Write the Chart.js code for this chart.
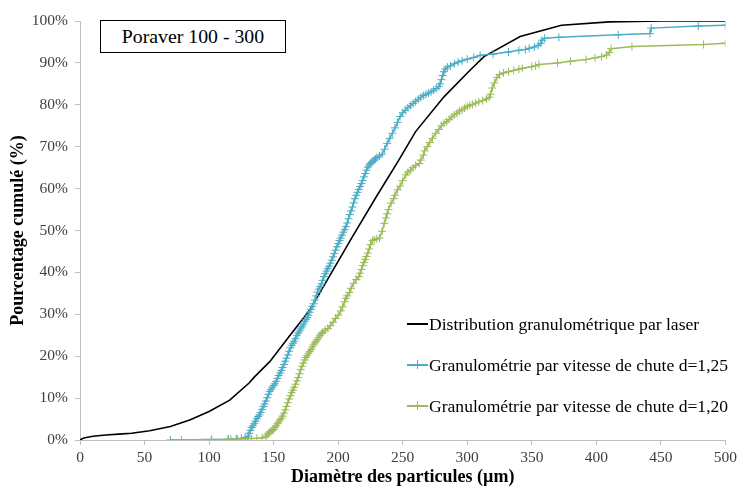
<!DOCTYPE html>
<html><head><meta charset="utf-8">
<script src="https://cdn.jsdelivr.net/npm/chart.js@4/dist/chart.umd.min.js"></script>
<style>
html,body{margin:0;padding:0;background:#fff;}
#wrap{position:relative;width:741px;height:488px;overflow:hidden;}
#titleBox{position:absolute;left:100px;top:20px;width:184px;height:31px;border:1px solid #000;font:19.8px 'Liberation Serif',serif;display:flex;align-items:center;justify-content:center;color:#000;background:#fff;}
.leg{position:absolute;left:407px;height:20px;width:334px;font:17.6px 'Liberation Serif',serif;white-space:nowrap;color:#000;}
.leg .ln{position:absolute;left:0;top:9px;width:21px;height:1.6px;}
.leg .vt{position:absolute;left:10px;top:5px;width:1px;height:9px;}
.leg .tx{position:absolute;left:22px;top:0;line-height:20px;}
</style></head>
<body>
<div id="wrap">
<canvas id="c" width="741" height="488"></canvas>
<div id="titleBox">Poraver 100 - 300</div>
<div id="legend"></div>
</div>
<script>
// ---- data ----
const seriesNames = [
  'Distribution granulométrique par laser',
  'Granulométrie par vitesse de chute d=1,25',
  'Granulométrie par vitesse de chute d=1,20'
];
const xTicks = [0,50,100,150,200,250,300,350,400,450,500];
const yTicks = [0,10,20,30,40,50,60,70,80,90,100];

const laserPoints = [
  [0,0],[3,0.5],[10,0.9],[20,1.2],[30,1.4],[40,1.6],[54,2.2],[70,3.2],[85,4.8],[100,6.8],
  [116,9.5],[131,13.6],[135,15.0],[147,18.7],[162,24.7],[178,31.0],[195,40.0],[211,48.5],
  [230,58.3],[247,66.8],[260,73.6],[282,81.9],[301,87.9],[313,91.5],[341,96.3],[373,99.0],
  [410,99.8],[450,100],[500,100]
];

const blue125Points = [
  [70,0],[102,0.1],[115,0.2],[121,0.3],[125,0.4],[128,0.6],[130,0.9],[131,1.6],[132,2.3],[133,3.0],
  [134,3.4],[135,3.9],[136,4.5],[137,5.1],[138,5.6],[139,6.0],[140,6.6],[141,7.3],[142,8.0],[143,8.6],
  [144,9.3],[145,10.1],[146,10.9],[147,11.6],[148,12.1],[149,12.6],[150,13.0],[151,13.4],[152,14.0],
  [153,14.7],[154,15.4],[155,16.0],[156,16.6],[157,17.3],[158,18.0],[159,18.8],[160,19.5],[161,20.3],
  [162,21.2],[163,22.0],[164,22.6],[165,23.1],[166,23.6],[167,24.2],[168,24.9],[169,25.5],[170,26.0],
  [171,26.5],[172,27.0],[173,27.6],[174,28.2],[175,28.7],[176,29.2],[177,29.8],[178,30.5],[179,31.2],
  [180,31.9],[181,32.5],[182,33.4],[183,34.4],[184,35.3],[185,36.0],[186,36.6],[187,37.3],[188,38.1],
  [189,39.0],[190,39.7],[191,40.3],[192,40.9],[193,41.5],[194,42.2],[195,42.9],[196,43.7],[197,44.5],
  [198,45.3],[199,46.1],[200,46.9],[201,47.6],[202,48.2],[203,48.9],[204,49.6],[205,50.2],[206,50.9],
  [207,51.8],[208,52.8],[209,53.8],[210,54.7],[211,55.6],[212,56.6],[213,57.6],[214,58.4],[215,59.1],
  [216,59.8],[217,60.5],[218,61.2],[219,61.9],[220,62.8],[221,63.6],[222,64.4],[223,65.1],[224,65.6],
  [225,66.0],[226,66.3],[227,66.6],[228,66.8],[229,67.1],[230,67.4],[232,67.8],[234,68.2],[236,69.4],
  [238,70.8],[240,72.0],[242,73.2],[244,74.5],[246,75.8],[248,77.2],[250,78.1],[252,78.7],[254,79.3],
  [256,79.8],[258,80.3],[260,80.8],[262,81.3],[264,81.8],[266,82.2],[268,82.5],[270,82.8],[272,83.1],
  [274,83.5],[276,83.9],[278,84.4],[279,85.0],[280,86.0],[281,87.0],[282,87.9],[283,88.5],[284.6,89.0],
  [287,89.3],[290,89.8],[293,90.2],[296,90.5],[300,90.9],[305,91.3],[310,91.8],[320,92.1],[332,92.6],
  [340,93.0],[345,93.2],[348,93.5],[352,93.8],[355,94.2],[357,94.7],[358,95.4],[360,95.9],[371,96.1],
  [417,96.7],[441.5,97.0],[442.5,98.3],[479,98.8],[500,99.0]
];

const green120Points = [
  [78.6,0],[101.7,0.1],[114.6,0.15],[117,0.2],[122,0.25],[128,0.3],[133,0.35],[137,0.4],[141,0.5],
  [144,0.8],[145,1.2],[146,1.6],[147,1.9],[148,2.1],[149,2.3],[150,2.5],[151,3.0],[152,3.4],[153,3.9],
  [154,4.3],[155,4.8],[156,5.2],[157,5.7],[158,6.4],[159,7.2],[160,8.0],[161,8.9],[162,9.8],[163,10.6],
  [164,11.3],[165,11.9],[166,12.6],[167,13.3],[168,14.1],[169,14.9],[170,15.8],[171,16.8],[172,17.6],
  [173,18.4],[174,19.1],[175,19.7],[176,20.2],[177,20.7],[178,21.1],[179,21.6],[180,22.2],[181,22.7],
  [182,23.2],[183,23.6],[184,24.0],[185,24.5],[186,25.0],[187,25.4],[188,25.7],[190,26.2],[192,26.6],
  [194,27.3],[196,28.1],[198,29.0],[200,29.8],[202,30.8],[203.5,31.8],[205,33.0],[206,33.8],[207,34.4],
  [208.7,35.2],[210,36.2],[212,37.4],[214,38.3],[216,39.0],[217,39.8],[218,40.7],[219,41.6],[220,42.4],
  [221,43.1],[222,43.8],[223,44.6],[224,45.6],[225,46.6],[226.7,47.6],[228,47.8],[230,48.0],[232,48.2],
  [234,49.8],[235.7,51.7],[237,53.0],[238,54.0],[239,55.0],[241,56.5],[243,57.6],[244,58.4],[246,59.7],
  [248,60.6],[250,61.9],[252.5,63.3],[254,63.9],[256,64.4],[258,65.0],[260,65.5],[262.8,66.0],[264,66.8],
  [266,68.0],[267,69.0],[269,70.0],[271,71.0],[273,72.0],[275.6,73.2],[278,74.1],[280,75.0],[282,75.6],
  [284,76.0],[286,76.5],[288,77.1],[290,77.6],[292,78.0],[294,78.5],[296,78.8],[298,79.2],[300,79.6],
  [302,79.9],[304,80.1],[306.5,80.4],[309,80.7],[312,81.0],[315,81.4],[317,81.8],[318,82.5],[319.4,84.0],
  [321,85.2],[323,86.5],[325,87.2],[328,87.6],[332,87.9],[336,88.2],[340,88.5],[342.6,88.7],[350,89.1],
  [353,89.3],[355.5,89.6],[370,90.0],[380,90.4],[392,90.8],[399,91.2],[404,91.5],[408,91.9],[410,92.5],
  [411.5,93.4],[427.6,93.9],[483,94.4],[500,94.7]
];

const seriesColors = ['#000000', '#4bacc6', '#9bbb59'];

// ---- legend (HTML) ----
const legendTops = [314, 355, 396];
const legendEl = document.getElementById('legend');
seriesNames.forEach((name, i) => {
  const row = document.createElement('div');
  row.className = 'leg';
  row.style.top = legendTops[i] + 'px';
  const ln = document.createElement('span'); ln.className = 'ln'; ln.style.background = seriesColors[i];
  row.appendChild(ln);
  if (i > 0) { const vt = document.createElement('span'); vt.className = 'vt'; vt.style.background = seriesColors[i]; row.appendChild(vt); }
  const tx = document.createElement('span'); tx.className = 'tx'; tx.textContent = name;
  row.appendChild(tx);
  legendEl.appendChild(row);
});

const toXY = arr => arr.map(p => ({x: p[0], y: p[1]}));

new Chart(document.getElementById('c'), {
  type: 'scatter',
  data: {
    datasets: [
      { label: seriesNames[0], data: toXY(laserPoints), showLine: true, borderColor: seriesColors[0],
        borderWidth: 1.6, pointRadius: 0, tension: 0, order: 3 },
      { label: seriesNames[1], data: toXY(blue125Points), showLine: true, borderColor: seriesColors[1],
        backgroundColor: seriesColors[1], borderWidth: 1.5, pointStyle: 'cross', pointRadius: 4,
        pointBorderWidth: 1, pointBorderColor: seriesColors[1], tension: 0, order: 2 },
      { label: seriesNames[2], data: toXY(green120Points), showLine: true, borderColor: seriesColors[2],
        backgroundColor: seriesColors[2], borderWidth: 1.5, pointStyle: 'cross', pointRadius: 4,
        pointBorderWidth: 1, pointBorderColor: seriesColors[2], tension: 0, order: 1 }
    ]
  },
  options: {
    responsive: false,
    animation: false,
    devicePixelRatio: 1,
    layout: { padding: { left: 0, right: 14, top: 21, bottom: 0 } },
    plugins: { legend: { display: false }, tooltip: { enabled: false } },
    scales: {
      x: {
        type: 'linear', min: 0, max: 500,
        afterBuildTicks: s => { s.ticks = xTicks.map(v => ({value: v})); },
        afterFit: s => { s.height = 48; },
        grid: { drawOnChartArea: false, drawTicks: true, tickLength: 5, color: '#bfbfbf' },
        border: { display: true, color: '#bfbfbf', width: 1 },
        ticks: { color: '#404040', font: { family: 'Liberation Serif', size: 15.5 }, padding: 4, maxRotation: 0 },
        title: { display: true, text: 'Diamètre des particules (µm)', color: '#000',
                 font: { family: 'Liberation Serif', size: 18, weight: 'bold' }, padding: { top: 0, bottom: 0 } }
      },
      y: {
        type: 'linear', min: 0, max: 100,
        afterBuildTicks: s => { s.ticks = yTicks.map(v => ({value: v})); },
        afterFit: s => { s.width = 80; },
        grid: { drawOnChartArea: false, drawTicks: true, tickLength: 5, color: '#bfbfbf' },
        border: { display: true, color: '#bfbfbf', width: 1 },
        ticks: { color: '#404040', font: { family: 'Liberation Serif', size: 15.5 }, padding: 7,
                 callback: v => v + '%' },
        title: { display: true, text: 'Pourcentage cumulé (%)', color: '#000',
                 font: { family: 'Liberation Serif', size: 18, weight: 'bold' }, padding: { top: 7.5, bottom: 0 } }
      }
    }
  }
});
</script>
</body></html>
